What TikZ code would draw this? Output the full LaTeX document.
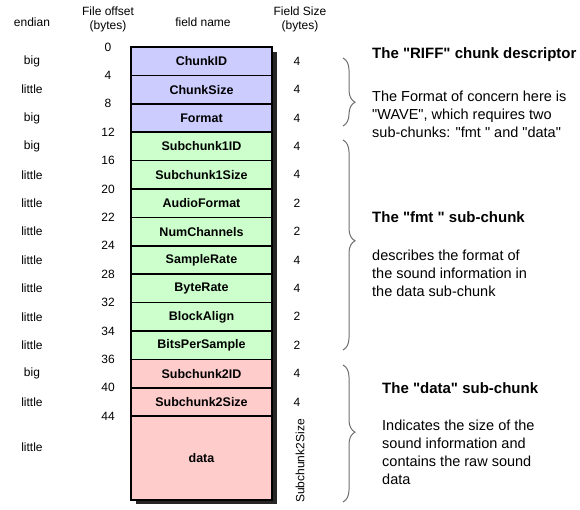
\documentclass[tikz,border=0pt]{standalone}
\usepackage{fontspec}
\setmainfont{Liberation Sans}[Ligatures=TeXOff]
\usetikzlibrary{decorations.pathreplacing}

\definecolor{riffblue}{RGB}{204,204,255}
\definecolor{fmtgreen}{RGB}{204,255,204}
\definecolor{datapink}{RGB}{255,204,204}
\definecolor{bracegray}{RGB}{110,110,110}

\tikzset{
  field/.style={draw=black, line width=1.5pt, minimum width=141pt, minimum height=28.4pt,
    inner sep=0pt, font=\fontsize{12.5}{14}\selectfont\bfseries},
  riff/.style={field, fill=riffblue},
  fmt/.style={field, fill=fmtgreen},
  datachunk/.style={field, fill=datapink},
  small/.style={font=\fontsize{12}{14}\selectfont, inner sep=0pt},
  header/.style={font=\fontsize{12}{14}\selectfont, align=center, inner sep=0pt},
  chunkbrace/.style={decorate, decoration={brace, amplitude=12pt, aspect=#1}, draw=bracegray, line width=1pt},
  title/.style={anchor=west, inner sep=0pt, font=\fontsize{15}{18}\selectfont\bfseries},
  note/.style={anchor=west, inner sep=0pt, align=left, font=\fontsize{14.5}{18}\selectfont},
}

\begin{document}
\begin{tikzpicture}[x=1pt, y=-1pt]
\useasboundingbox (0,0) rectangle (580,510);

% column heads
\node[header] (hendian) at (32,22) {endian};
\node[header] (hoffset) at (108,19) {File offset\\(bytes)};
\node[header] (hname) at (203,22) {field name};
\node[header] (hsize) at (300,19) {Field Size\\(bytes)};

% shadow
\fill[black!85] (136,52) rectangle (277,504);

% the fields
\node[riff] (chunkid) at (201.5,61.2) {ChunkID};
\node[riff] (chunksize) at (201.5,89.6) {ChunkSize};
\node[riff] (format) at (201.5,118) {Format};
\node[fmt] (subid1) at (201.5,146.4) {Subchunk1ID};
\node[fmt] (subsize1) at (201.5,174.8) {Subchunk1Size};
\node[fmt] (audiofmt) at (201.5,203.2) {AudioFormat};
\node[fmt] (numchan) at (201.5,231.6) {NumChannels};
\node[fmt] (samplerate) at (201.5,260) {SampleRate};
\node[fmt] (byterate) at (201.5,288.4) {ByteRate};
\node[fmt] (blockalign) at (201.5,316.8) {BlockAlign};
\node[fmt] (bitsps) at (201.5,345.2) {BitsPerSample};
\node[datachunk] (subid2) at (201.5,373.6) {Subchunk2ID};
\node[datachunk] (subsize2) at (201.5,402) {Subchunk2Size};
\node[datachunk, minimum height=83.8pt] (data) at (201.5,458.1) {data};

% endian
\node[small] (e1) at (32,61.2) {big};
\node[small] (e2) at (32,89.6) {little};
\node[small] (e3) at (32,118) {big};
\node[small] (e4) at (32,146.4) {big};
\node[small] (e5) at (32,174.8) {little};
\node[small] (e6) at (32,203.2) {little};
\node[small] (e7) at (32,231.6) {little};
\node[small] (e8) at (32,260) {little};
\node[small] (e9) at (32,288.4) {little};
\node[small] (e10) at (32,316.8) {little};
\node[small] (e11) at (32,345.2) {little};
\node[small] (e12) at (32,373.6) {big};
\node[small] (e13) at (32,402) {little};
\node[small] (e14) at (32,447) {little};

% offsets
\node[small] (o0) at (108,47) {0};
\node[small] (o4) at (108,75.4) {4};
\node[small] (o8) at (108,103.8) {8};
\node[small] (o12) at (108,132.2) {12};
\node[small] (o16) at (108,160.6) {16};
\node[small] (o20) at (108,189) {20};
\node[small] (o22) at (108,217.4) {22};
\node[small] (o24) at (108,245.8) {24};
\node[small] (o28) at (108,274.2) {28};
\node[small] (o32) at (108,302.6) {32};
\node[small] (o34) at (108,331) {34};
\node[small] (o36) at (108,359.4) {36};
\node[small] (o40) at (108,387.8) {40};
\node[small] (o44) at (108,416.2) {44};

% sizes
\node[small] (s1) at (297,61.2) {4};
\node[small] (s2) at (297,89.6) {4};
\node[small] (s3) at (297,118) {4};
\node[small] (s4) at (297,146.4) {4};
\node[small] (s5) at (297,174.8) {4};
\node[small] (s6) at (297,203.2) {2};
\node[small] (s7) at (297,231.6) {2};
\node[small] (s8) at (297,260) {4};
\node[small] (s9) at (297,288.4) {4};
\node[small] (s10) at (297,316.8) {2};
\node[small] (s11) at (297,345.2) {2};
\node[small] (s12) at (297,373.6) {4};
\node[small] (s13) at (297,402) {4};
\node[small, rotate=90] (s14) at (300,461) {Subchunk2Size};

% braces
\draw[chunkbrace=0.65] (343,58) -- (343,126);
\draw[chunkbrace=0.48] (343,140) -- (343,350);
\draw[chunkbrace=0.49] (343,365) -- (343,502);

% descriptions
\node[title] (riffhead) at (372,55) {The "RIFF" chunk descriptor};
\node[note] (riffnote) at (372,114) {The Format of concern here is\\"WAVE", which requires two\\sub-chunks: "fmt " and "data"};
\node[title] (fmthead) at (372,217) {The "fmt " sub-chunk};
\node[note] (fmtnote) at (372,273) {describes the format of\\the sound information in\\the data sub-chunk};
\node[title] (datahead) at (382,388) {The "data" sub-chunk};
\node[note] (datanote) at (382,452) {Indicates the size of the\\sound information and\\contains the raw sound\\data};
\end{tikzpicture}
\end{document}
